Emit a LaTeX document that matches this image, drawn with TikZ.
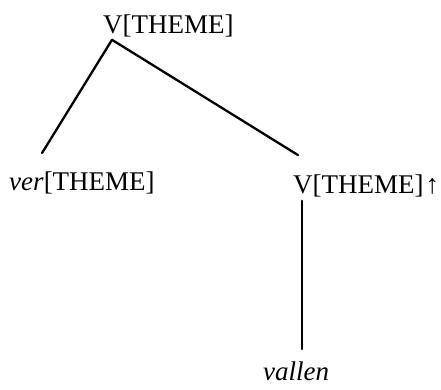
\documentclass[tikz,border=0pt]{standalone}
\usepackage{fontspec}
\setmainfont{Liberation Serif}
\begin{document}
\begin{tikzpicture}[
		x=1pt, y=-1pt,
		font=\fontsize{27}{30}\selectfont,
		cat/.style={anchor=base west, inner sep=0pt},
		branch/.style={line width=2.3pt, line cap=round},
	]
		\useasboundingbox (0,0) rectangle (441,389);

		% Kategorien mit absoluten Koordinaten
		\node[cat] (root) at (103,33) {V[THEME]};
		\node[cat] (ver) at (9,190) {\textit{ver}[THEME]};
		\node[cat] (vtheme) at (293,193) {V[THEME]\kern2pt↑};
		\node[cat] (vallen) at (263,380) {\textit{vallen}};

		% Aeste
		\draw[branch] ([xshift=9pt,yshift=-3pt]root.south west) -- ([xshift=33pt,yshift=18pt]ver.north west);
		\draw[branch] ([xshift=9pt,yshift=-3pt]root.south west) -- ([xshift=5pt,yshift=19pt]vtheme.north west);
		\draw[branch] ([xshift=9pt,yshift=-4pt]vtheme.south west) -- ([xshift=39pt,yshift=12pt]vallen.north west);
	\end{tikzpicture}
\end{document}
